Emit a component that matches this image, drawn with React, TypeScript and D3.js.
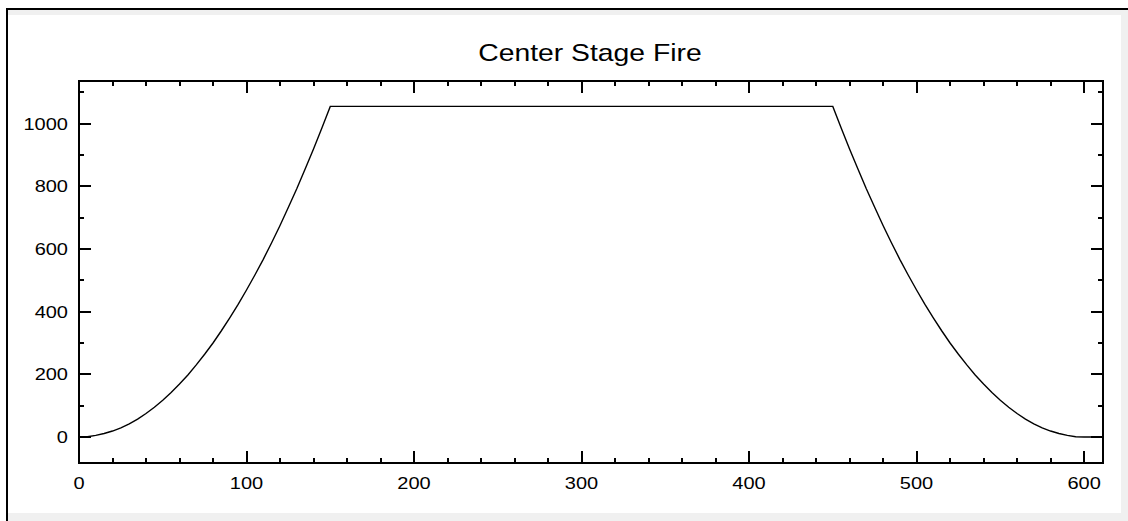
import React from "react";
import * as d3 from "d3";

// Heat release rate of the center stage fire (kW) against time (s)
const growthTime = [0, 5, 10, 15, 20, 25, 30, 35, 40, 45, 50, 55, 60, 65, 70, 75, 80, 85, 90, 95, 100, 105, 110, 115, 120, 125, 130, 135, 140, 145, 150];
const growthHrr = [0, 1, 5, 11, 19, 29, 42, 57, 75, 95, 117, 142, 169, 198, 230, 264, 300, 339, 380, 423, 469, 517, 567, 620, 675, 733, 792, 855, 919, 986, 1055];
const decayTime = [450, 455, 460, 465, 470, 475, 480, 485, 490, 495, 500, 505, 510, 515, 520, 525, 530, 535, 540, 545, 550, 555, 560, 565, 570, 575, 580, 585, 590, 595, 600, 611.3];
const decayHrr = [1055, 986, 919, 855, 792, 733, 675, 620, 567, 517, 469, 423, 380, 339, 300, 264, 230, 198, 169, 142, 117, 95, 75, 57, 42, 29, 19, 11, 5, 1, 0, 0];

const xMajorTicks = [0, 100, 200, 300, 400, 500, 600];
const xMinorTicks = [20, 40, 60, 80, 120, 140, 160, 180, 220, 240, 260, 280, 320, 340, 360, 380, 420, 440, 460, 480, 520, 540, 560, 580];
const yMajorTicks = [0, 200, 400, 600, 800, 1000];
const yMinorTicks = [100, 300, 500, 700, 900, 1100];

const title = "Center Stage Fire";

const W = 1128;
const H = 521;

export default function App() {
  const x = d3.scaleLinear().domain([0, 611.3]).range([79, 1103]);
  const y = d3.scaleLinear().domain([-83, 1136]).range([463, 81]);

  const points: [number, number][] = [
    ...growthTime.map((t, i) => [t, growthHrr[i]] as [number, number]),
    ...decayTime.map((t, i) => [t, decayHrr[i]] as [number, number]),
  ];
  const line = d3
    .line<[number, number]>()
    .x((d) => x(d[0]))
    .y((d) => y(d[1]));

  const [x0, x1] = x.range();
  const [y0, y1] = y.range(); // y0 bottom, y1 top
  const major = 12;
  const minor = 5;
  const font = "'Liberation Sans', Arial, sans-serif";
  const labelScale = 1.25;

  return (
    <svg
      width={W}
      height={H}
      style={{ position: "absolute", left: 0, top: 0, background: "#fff" }}
    >
      {/* window panel */}
      <rect x={8} y={10} width={W - 8} height={H - 10} fill="#f0f0f0" />
      <rect x={8} y={15} width={1113} height={498} fill="#fff" />
      <line x1={6} x2={W} y1={9} y2={9} stroke="#000" strokeWidth={2} shapeRendering="crispEdges" />
      <line x1={7} x2={7} y1={8} y2={H} stroke="#000" strokeWidth={2} shapeRendering="crispEdges" />

      {/* title */}
      <text
        transform={`translate(${(x0 + x1) / 2 - 1},60.5) scale(1.18,1)`}
        textAnchor="middle"
        fontFamily={font}
        fontSize={24}
        fill="#000"
      >
        {title}
      </text>

      {/* curve */}
      <path d={line(points) ?? ""} fill="none" stroke="#000" strokeWidth={1.4} />

      {/* ticks, pointing inward on all four sides */}
      <g stroke="#000" strokeWidth={2} shapeRendering="crispEdges">
        {xMajorTicks.map((t) => (
          <g key={"xM" + t}>
            <line x1={x(t)} x2={x(t)} y1={y0} y2={y0 - major} />
            <line x1={x(t)} x2={x(t)} y1={y1} y2={y1 + major} />
          </g>
        ))}
        {xMinorTicks.map((t) => (
          <g key={"xm" + t}>
            <line x1={x(t)} x2={x(t)} y1={y0} y2={y0 - minor} />
            <line x1={x(t)} x2={x(t)} y1={y1} y2={y1 + minor} />
          </g>
        ))}
        {yMajorTicks.map((v) => (
          <g key={"yM" + v}>
            <line x1={x0} x2={x0 + major} y1={y(v)} y2={y(v)} />
            <line x1={x1} x2={x1 - major} y1={y(v)} y2={y(v)} />
          </g>
        ))}
        {yMinorTicks.map((v) => (
          <g key={"ym" + v}>
            <line x1={x0} x2={x0 + minor} y1={y(v)} y2={y(v)} />
            <line x1={x1} x2={x1 - minor} y1={y(v)} y2={y(v)} />
          </g>
        ))}
        <rect x={x0} y={y1} width={x1 - x0} height={y0 - y1} fill="none" />
      </g>

      {/* tick labels */}
      <g fontFamily={font} fontSize={16} fill="#000">
        {xMajorTicks.map((t) => (
          <text
            key={"xl" + t}
            transform={`translate(${x(t)},489) scale(${labelScale},1)`}
            textAnchor="middle"
          >
            {t}
          </text>
        ))}
        {yMajorTicks.map((v) => (
          <text
            key={"yl" + v}
            transform={`translate(68,${y(v) + 6}) scale(${labelScale},1)`}
            textAnchor="end"
          >
            {v}
          </text>
        ))}
      </g>
    </svg>
  );
}
